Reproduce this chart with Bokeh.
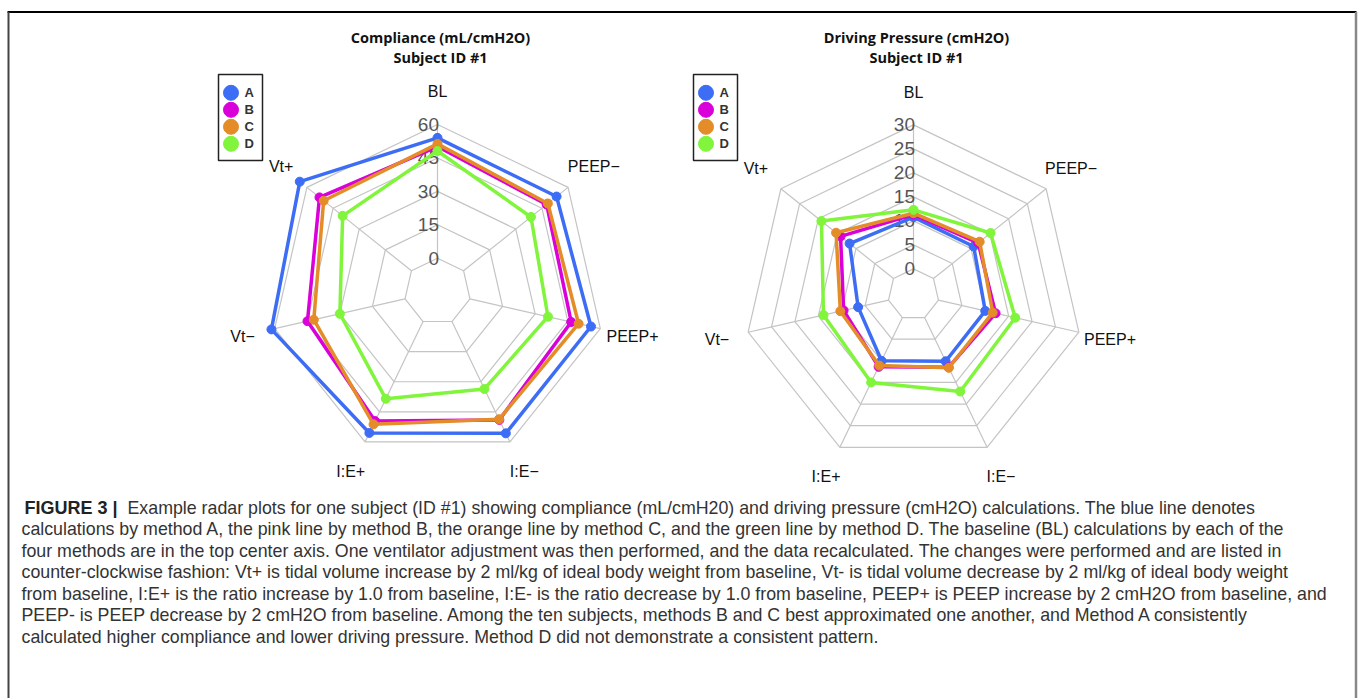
import math
from bokeh.plotting import figure
from bokeh.models import Range1d
from bokeh.core.properties import value
from bokeh.embed import file_html
from bokeh.resources import INLINE

# ---------------- data ----------------
categories = ["BL", "PEEP\u2212", "PEEP+", "I:E\u2212", "I:E+", "Vt\u2212", "Vt+"]
methods = ["A", "B", "C", "D"]
method_colors = ["#3d6df4", "#d900d9", "#e48c28", "#80f53c"]

compliance_A = [54.0, 53.4, 55.7, 55.7, 55.5, 61.5, 64.1]
compliance_B = [50.1, 47.7, 46.6, 49.0, 49.6, 44.9, 52.8]
compliance_C = [51.3, 48.4, 50.0, 48.7, 51.2, 42.0, 50.4]
compliance_D = [48.1, 38.7, 35.9, 33.6, 38.5, 30.0, 39.5]
compliance_ticks = [0, 15, 30, 45, 60]

pressure_A = [10.8, 10.7, 10.0, 10.1, 10.0, 6.5, 11.7]
pressure_B = [11.3, 11.9, 12.2, 11.5, 11.4, 9.6, 14.1]
pressure_C = [11.6, 12.3, 11.6, 11.6, 11.1, 10.3, 15.3]
pressure_D = [12.3, 15.2, 16.4, 17.1, 15.0, 13.9, 19.2]
pressure_ticks = [0, 5, 10, 15, 20, 25, 30]

titles_left = ["Compliance (mL/cmH2O)", "Subject ID #1"]
titles_right = ["Driving Pressure (cmH2O)", "Subject ID #1"]

caption_bold = "FIGURE 3 |"
caption_lines = [
    "Example radar plots for one subject (ID #1) showing compliance (mL/cmH20) and driving pressure (cmH2O) calculations. The blue line denotes",
    "calculations by method A, the pink line by method B, the orange line by method C, and the green line by method D. The baseline (BL) calculations by each of the",
    "four methods are in the top center axis. One ventilator adjustment was then performed, and the data recalculated. The changes were performed and are listed in",
    "counter-clockwise fashion: Vt+ is tidal volume increase by 2 ml/kg of ideal body weight from baseline, Vt- is tidal volume decrease by 2 ml/kg of ideal body weight",
    "from baseline, I:E+ is the ratio increase by 1.0 from baseline, I:E- is the ratio decrease by 1.0 from baseline, PEEP+ is PEEP increase by 2 cmH2O from baseline, and",
    "PEEP- is PEEP decrease by 2 cmH2O from baseline. Among the ten subjects, methods B and C best approximated one another, and Method A consistently",
    "calculated higher compliance and lower driving pressure. Method D did not demonstrate a consistent pattern.",
]

# ---------------- figure (page pixel coordinates, y downwards) ----------------
W, H = 1358, 698
p = figure(width=W, height=H, x_range=Range1d(0, W), y_range=Range1d(H, 0),
           output_backend="svg", toolbar_location=None, min_border=0,
           x_axis_type=None, y_axis_type=None)
p.grid.visible = False
p.outline_line_color = None
p.background_fill_color = "white"
p.border_fill_color = "white"

SANS = value("Liberation Sans")
BOLD_T = value("Open Sans")

# frame
p.line([7, 1356], [11.5, 11.5], line_color="black", line_width=2)
p.line([8, 8], [11.5, H], line_color="#444444", line_width=2)
p.line([1355.5, 1355.5], [11.5, H], line_color="#888888", line_width=2.5)

n = len(categories)
angles = [math.radians(90 - k * 360.0 / n) for k in range(n)]


def radar(cx, cy, R, hole, ticks, series, title, legend_x, label_gap):
    vmax = ticks[-1]

    def rad(v):
        return hole + v / vmax * (R - hole)

    def pt(r, a):
        return cx + r * math.cos(a), cy - r * math.sin(a)

    # rings
    xs, ys = [], []
    for t in ticks:
        r = rad(t)
        pts = [pt(r, a) for a in angles] + [pt(r, angles[0])]
        xs.append([q[0] for q in pts])
        ys.append([q[1] for q in pts])
    # spokes
    for a in angles:
        a0, a1 = pt(rad(0), a), pt(R, a)
        xs.append([a0[0], a1[0]])
        ys.append([a0[1], a1[1]])
    p.multi_line(xs, ys, line_color="#c4c4c4", line_width=1.2)

    # radial tick labels
    p.text(x=[cx + 1.5] * len(ticks), y=[cy - rad(t) for t in ticks],
           text=[str(t) for t in ticks], text_font=SANS, text_font_size="19px",
           text_color="#555555", text_align="right", text_baseline="middle")

    # angular labels
    lab = [pt(R + label_gap, a) for a in angles]
    p.text(x=[q[0] for q in lab], y=[q[1] for q in lab], text=categories,
           text_font=SANS, text_font_size="16px", text_color="#111111",
           text_align="center", text_baseline="middle")

    # data
    for vals, col in zip(series, method_colors):
        pts = [pt(rad(v), a) for v, a in zip(vals, angles)]
        px = [q[0] for q in pts]
        py = [q[1] for q in pts]
        p.line(px + [px[0]], py + [py[0]], line_color=col, line_width=3.5,
               line_join="round")
        p.scatter(px, py, size=9, fill_color=col, line_color=col)

    # title
    p.text(x=[cx + 3, cx + 3], y=[37, 57], text=title, text_font=BOLD_T,
           text_font_style="bold", text_font_size="14.5px", text_color="#111111",
           text_align="center", text_baseline="middle")

    # legend
    p.quad(left=[legend_x], right=[legend_x + 44], top=[74], bottom=[160],
           fill_color=None, line_color="#222222", line_width=1.5)
    ly = [92.3 + 17 * i for i in range(len(methods))]
    p.scatter([legend_x + 12.5] * len(methods), ly, size=15,
              fill_color=method_colors, line_color=method_colors)
    p.text(x=[legend_x + 26] * len(methods), y=ly, text=methods, text_font=SANS,
           text_font_style="bold", text_font_size="13px", text_color="#333333",
           text_align="left", text_baseline="middle")


radar(437, 291, 167, 33.3, compliance_ticks,
      [compliance_A, compliance_B, compliance_C, compliance_D],
      titles_left, 218, 33)
radar(913, 294, 169.6, 25.6, pressure_ticks,
      [pressure_A, pressure_B, pressure_C, pressure_D],
      titles_right, 693, 32)

# caption
cap_y = [507 + 21.5 * i for i in range(len(caption_lines))]
p.text(x=[24], y=[cap_y[0]], text=[caption_bold], text_font=SANS,
       text_font_style="bold", text_font_size="18px", text_color="#222222",
       text_align="left", text_baseline="middle")
p.text(x=[127] + [21] * (len(caption_lines) - 1), y=cap_y, text=caption_lines,
       text_font=SANS, text_font_size="17.8px", text_color="#333333",
       text_align="left", text_baseline="middle")

open("out.html", "w").write(file_html(p, INLINE))
